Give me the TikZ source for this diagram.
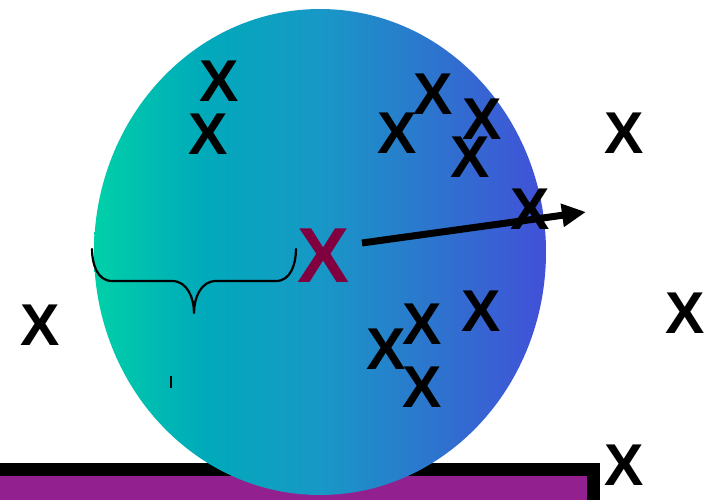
\documentclass[tikz,border=0pt]{standalone}
\usepackage{fontspec}
\setmainfont{Liberation Sans}
\usetikzlibrary{arrows.meta}
\definecolor{c1}{RGB}{0,208,168}
\definecolor{c2}{RGB}{0,170,186}
\definecolor{c3}{RGB}{24,152,198}
\definecolor{c4}{RGB}{44,118,206}
\definecolor{c5}{RGB}{66,80,216}
\definecolor{boxpurple}{RGB}{147,32,143}
\definecolor{centerred}{RGB}{128,0,64}
\pgfdeclarehorizontalshading{ballshade}{100bp}{%
  color(0bp)=(c1); color(25bp)=(c1); color(37bp)=(c2); color(50bp)=(c3); color(62bp)=(c4); color(75bp)=(c5); color(100bp)=(c5)}
\tikzset{
  xmark/.style={font=\fontsize{59}{59}\selectfont\bfseries, inner sep=0pt, anchor=center, text=black},
  bigx/.style={font=\fontsize{78}{78}\selectfont\bfseries, inner sep=0pt, anchor=center, text=centerred},
  bracepath/.style={line width=2.2pt, line cap=round, line join=round},
  movearrow/.style={line width=7pt, -{Triangle[length=24pt,width=22pt]}}
}
\begin{document}
\begin{tikzpicture}[x=1pt,y=-1pt]
\useasboundingbox (0,0) rectangle (715,499);
% base bar
\draw[line width=13pt, fill=boxpurple] (-30,469.5) -- (593.5,469.5) -- (593.5,530) -- (-30,530) -- cycle;
% ball
\shade[shading=ballshade] (320,252) ellipse [x radius=226, y radius=243];
% brace
\draw[bracepath] (92,249) to[out=-90,in=180] (112,281) -- (172,281) to[out=0,in=90] (194,313)
  to[out=90,in=180] (216,281) -- (276,281) to[out=0,in=-90] (296,249);
\draw[line width=2pt] (171,376) -- (171,388);
% center
\node[bigx] (c) at (324,256) {X};
\coordinate (as) at (362,243);
\coordinate (ae) at (586,212);
\draw[movearrow] (as) -- (ae);
% crosses
\node[xmark] (x1) at (219,81) {X};
\node[xmark] (x2) at (208,134) {X};
\node[xmark] (x3) at (433,94) {X};
\node[xmark] (x4) at (397,133) {X};
\node[xmark] (x5) at (482,119) {X};
\node[xmark] (x6) at (470,157) {X};
\node[xmark] (x7) at (530,209) {X};
\node[xmark] (x8) at (624,133) {X};
\node[xmark] (x9) at (40,325) {X};
\node[xmark] (x10) at (685,313) {X};
\node[xmark] (x11) at (481,311) {X};
\node[xmark] (x12) at (422,324) {X};
\node[xmark] (x13) at (386,349) {X};
\node[xmark] (x14) at (422,387) {X};
\node[xmark] (x15) at (624,465) {X};
\end{tikzpicture}
\end{document}
